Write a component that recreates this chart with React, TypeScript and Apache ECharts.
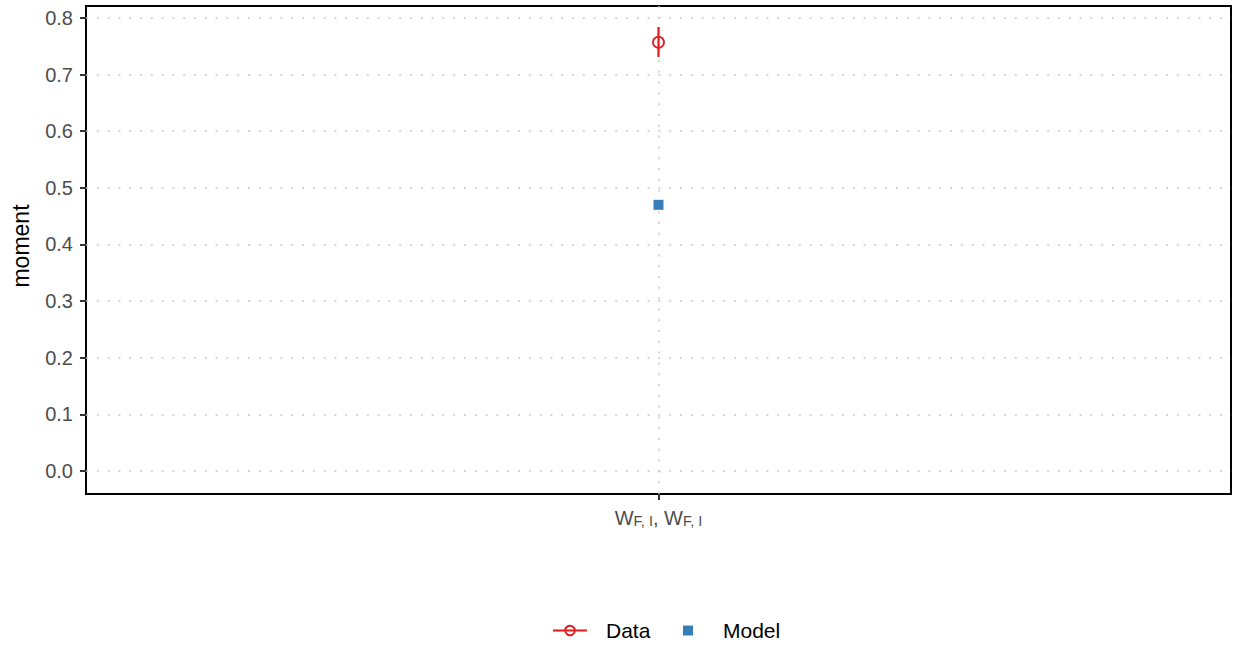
import React, { useEffect, useRef } from "react";
import * as echarts from "echarts";

const categories = ["W_{F, I}, W_{F, I}"];
const categoryPositions = [1];
const dataValues = [0.757];
const dataLow = [0.731];
const dataHigh = [0.784];
const modelValues = [0.47];
const yTicks = [0, 0.1, 0.2, 0.3, 0.4, 0.5, 0.6, 0.7, 0.8];
const seriesNames = ["Data", "Model"];

const RED = "#E41A1C";
const BLUE = "#377EB8";

export default function App() {
  const ref = useRef<HTMLDivElement>(null);
  useEffect(() => {
    const chart = echarts.init(ref.current!, null, { renderer: "svg" });
    const font = "Liberation Sans, Arial, sans-serif";
    const grid = { color: "#c8c8c8", width: 1.5, type: [2, 8.8] };
    const legendText = { fontSize: 21, color: "#000", fontFamily: font };
    chart.setOption({
      animation: false,
      textStyle: { fontFamily: font },
      grid: {
        left: 86,
        right: 2,
        top: 6,
        bottom: 151,
        show: true,
        borderColor: "#000",
        borderWidth: 2,
        backgroundColor: "transparent",
        containLabel: false,
        outerBoundsMode: "none",
      },
      xAxis: {
        type: "value",
        min: 0.4,
        max: 1.6,
        axisLine: { show: false, onZero: false },
        axisTick: { show: true, length: 6, customValues: categoryPositions, lineStyle: { color: "#333", width: 2 } },
        splitLine: { show: true, lineStyle: grid },
        axisLabel: {
          customValues: categoryPositions,
          margin: 10,
          formatter: () => "{b|W}{s|F, I}{b|, W}{s|F, I}",
          rich: {
            b: { fontSize: 20, color: "#4d4d4d", fontFamily: font, lineHeight: 24, verticalAlign: "bottom" },
            s: { fontSize: 14.5, color: "#4d4d4d", fontFamily: font, lineHeight: 11, verticalAlign: "bottom" },
          },
        },
      },
      yAxis: {
        type: "value",
        min: -0.0406,
        max: 0.821,
        name: "moment",
        nameLocation: "middle",
        nameGap: 54,
        nameTextStyle: { fontSize: 23, color: "#000", fontFamily: font, padding: [0, 0, 0, 8] },
        axisLine: { show: false },
        axisTick: { show: true, length: 6, customValues: yTicks, lineStyle: { color: "#333", width: 2 } },
        axisLabel: {
          customValues: yTicks,
          margin: 13,
          fontSize: 20,
          color: "#4d4d4d",
          formatter: (v: number) => v.toFixed(1),
        },
        splitLine: { show: true, lineStyle: grid },
      },
      legend: [
        {
          left: 552,
          top: 620,
          padding: 0,
          itemWidth: 34,
          itemHeight: 12,
          data: [seriesNames[0]],
          textStyle: { ...legendText, padding: [0, 0, 0, 14] },
        },
        {
          left: 683,
          top: 620,
          padding: 0,
          itemWidth: 10,
          itemHeight: 10,
          data: [seriesNames[1]],
          textStyle: { ...legendText, padding: [0, 0, 0, 25] },
        },
      ],
      series: [
        {
          name: "errorbar",
          type: "custom",
          data: categoryPositions.map((x, i) => [x, dataLow[i], dataHigh[i]]),
          renderItem: (params: any, api: any) => {
            const lo = api.coord([api.value(0), api.value(1)]);
            const hi = api.coord([api.value(0), api.value(2)]);
            return {
              type: "line",
              shape: { x1: lo[0], y1: lo[1], x2: hi[0], y2: hi[1] },
              style: { stroke: RED, lineWidth: 2.2 },
            };
          },
          z: 3,
        },
        {
          name: "Data",
          type: "line",
          data: categoryPositions.map((x, i) => [x, dataValues[i]]),
          symbol: "circle",
          symbolSize: 11,
          itemStyle: { color: "rgba(255,255,255,0)", borderColor: RED, borderWidth: 1.8 },
          lineStyle: { color: RED, width: 2 },
          z: 4,
        },
        {
          name: "Model",
          type: "scatter",
          data: categoryPositions.map((x, i) => [x, modelValues[i]]),
          symbol: "rect",
          symbolSize: 10,
          itemStyle: { color: BLUE, opacity: 1 },
          z: 4,
        },
      ],
    });
    return () => chart.dispose();
  }, []);
  return <div ref={ref} style={{ width: 1233, height: 645, position: "absolute", left: 0, top: 0 }} />;
}
